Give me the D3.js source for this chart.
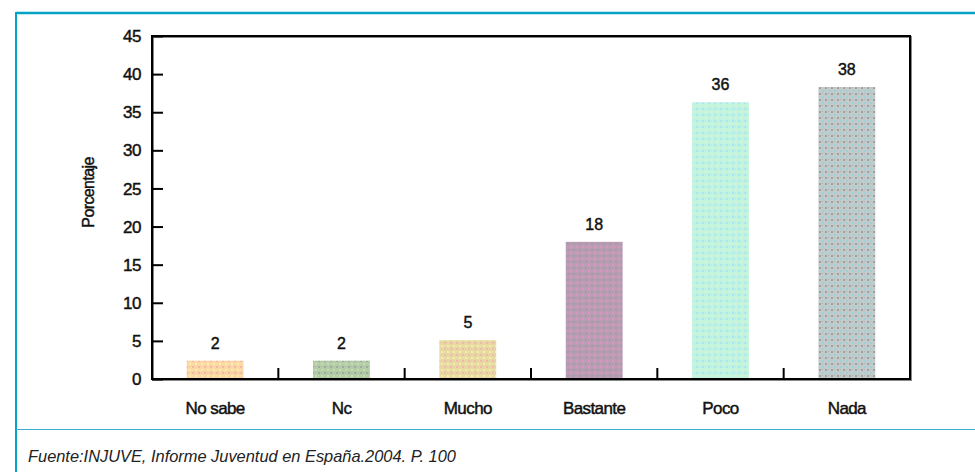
<!DOCTYPE html>
<html><head>
<meta charset="utf-8">
<title>Porcentaje</title>
<script src="https://cdn.jsdelivr.net/npm/d3@7"></script>
<style>
body { margin: 0; background: #fff; }
svg { display: block; }
.tick-label, .cat-label, .val-label, .ytitle {
    font-family: "Liberation Sans", Arial, sans-serif;
    fill: #111;
    stroke: #111;
    stroke-width: 0.45px;
}
.source { font-family: "Liberation Sans", Arial, sans-serif; font-style: italic; font-size: 16.4px; fill: #222; }
</style>
</head>
<body>
<svg id="chart" width="975" height="472"></svg>
<script>
// data
const categories = ["No sabe", "Nc", "Mucho", "Bastante", "Poco", "Nada"];
const values = [2.4, 2.4, 5.1, 18, 36.3, 38.3];
const yTicks = [0, 5, 10, 15, 20, 25, 30, 35, 40, 45];
// bar fills: base colour, dot colour 1, dot colour 2
const fillBase = ["#fbd6a6", "#b2cca8", "#e8d8a6", "#bc9cb4", "#c2f2e2", "#c2caca"];
const fillDot1 = ["#f6b8a6", "#a0aaa2", "#f2b8aa", "#d896bc", "#a6e8f0", "#9ad4da"];
const fillDot2 = ["#fff0a4", "#c8dcb0", "#f4f0a0", "#a09ca4", "#cef8ce", "#a0a0a0"];

const svg = d3.select("#chart");
const margin = {left: 152, right: 65, top: 36, bottom: 93};
const W = 975, H = 472;

// outer frame (blue)
svg.append("line").attr("x1", 16).attr("x2", W).attr("y1", 13).attr("y2", 13)
    .attr("stroke", "#05a2c8").attr("stroke-width", 2.5);
svg.append("line").attr("x1", 16).attr("x2", 16).attr("y1", 12).attr("y2", H)
    .attr("stroke", "#05a2c8").attr("stroke-width", 2);
svg.append("line").attr("x1", 16).attr("x2", W).attr("y1", 429.5).attr("y2", 429.5)
    .attr("stroke", "#3ab0d2").attr("stroke-width", 1.2);

svg.append("text").attr("class", "source").attr("x", 28).attr("y", 462)
    .text("Fuente:INJUVE, Informe Juventud en España.2004. P. 100");

const x = d3.scaleBand().domain(categories)
    .range([margin.left, W - margin.right]).paddingInner(0.55).paddingOuter(0.275);
const xb = d3.scaleBand().domain(categories).range([margin.left, W - margin.right]);
const y = d3.scaleLinear().domain([0, 45]).range([H - margin.bottom, margin.top]);

// patterns
const defs = svg.append("defs");
categories.forEach((c, i) => {
    const p = defs.append("pattern").attr("id", "pat" + i)
        .attr("patternUnits", "userSpaceOnUse").attr("width", 6).attr("height", 6);
    p.append("rect").attr("width", 6).attr("height", 6).attr("fill", fillBase[i]);
    p.append("rect").attr("x", 0).attr("y", 0).attr("width", 2).attr("height", 2).attr("fill", fillDot1[i]);
    p.append("rect").attr("x", 3).attr("y", 3).attr("width", 2).attr("height", 2).attr("fill", fillDot2[i]);
    p.append("rect").attr("x", 3).attr("y", 0).attr("width", 1).attr("height", 1).attr("fill", fillDot1[i]).attr("opacity", 0.6);
    p.append("rect").attr("x", 0).attr("y", 3).attr("width", 1).attr("height", 1).attr("fill", fillDot2[i]).attr("opacity", 0.6);
});

// bars
svg.append("g").selectAll("rect").data(values).join("rect")
    .attr("x", (d, i) => x(categories[i]))
    .attr("width", x.bandwidth())
    .attr("y", d => y(d))
    .attr("height", d => y(0) - y(d))
    .attr("fill", (d, i) => "url(#pat" + i + ")");

// value labels
svg.append("g").selectAll("text").data(values).join("text")
    .attr("class", "val-label")
    .attr("x", (d, i) => x(categories[i]) + x.bandwidth() / 2)
    .attr("y", d => y(d) - 12)
    .attr("text-anchor", "middle")
    .attr("font-size", 16)
    .text(d => Math.round(d));

// plot frame with shadow
const fx = margin.left, fy = margin.top, fw = W - margin.right - margin.left, fh = H - margin.bottom - margin.top;
svg.append("rect").attr("x", fx + 1).attr("y", fy + 1).attr("width", fw).attr("height", fh)
    .attr("fill", "none").attr("stroke", "#888").attr("stroke-width", 2);
svg.append("rect").attr("x", fx).attr("y", fy).attr("width", fw).attr("height", fh)
    .attr("fill", "none").attr("stroke", "#000").attr("stroke-width", 2);

// y axis (ticks inward)
const yAxis = svg.append("g").attr("transform", `translate(${fx},0)`)
    .call(d3.axisRight(y).tickValues(yTicks).tickSize(11).tickFormat(""));
yAxis.select(".domain").remove();
yAxis.selectAll("line").attr("stroke", "#000").attr("stroke-width", 2);
svg.append("g").selectAll("text").data(yTicks).join("text")
    .attr("class", "tick-label")
    .attr("x", 141).attr("y", d => y(d)).attr("dy", "0.36em")
    .attr("text-anchor", "end").attr("font-size", 17)
    .attr("letter-spacing", "-0.5px")
    .text(d => d);

// x ticks between categories, pointing up
const xAxis = svg.append("g").attr("transform", `translate(0,${y(0)})`)
    .call(d3.axisTop(xb).tickSize(11).tickFormat(""));
xAxis.select(".domain").remove();
xAxis.selectAll(".tick").attr("transform", d => `translate(${xb(d) + xb.bandwidth()},0)`)
    .filter((d, i) => i === categories.length - 1).remove();
xAxis.selectAll("line").attr("stroke", "#000").attr("stroke-width", 2);

svg.append("g").selectAll("text").data(categories).join("text")
    .attr("class", "cat-label")
    .attr("x", d => xb(d) + xb.bandwidth() / 2)
    .attr("y", 414)
    .attr("text-anchor", "middle").attr("font-size", 17)
    .attr("letter-spacing", "-0.6px")
    .text(d => d);

// y title
svg.append("text").attr("class", "ytitle")
    .attr("transform", `translate(94,${(y(20) + y(30)) / 2 + 4}) rotate(-90)`)
    .attr("text-anchor", "middle").attr("font-size", 16)
    .attr("letter-spacing", "-0.6px")
    .text("Porcentaje");
</script>
</body></html>
